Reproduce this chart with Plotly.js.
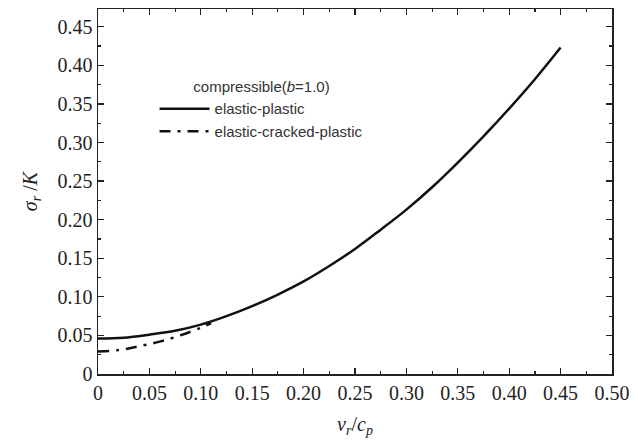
<!DOCTYPE html>
<html>
<head>
<meta charset="utf-8">
<script src="https://cdn.plot.ly/plotly-3.0.1.min.js"></script>
<style>html,body{margin:0;padding:0;background:#fff;}#chart{width:638px;height:441px;}</style>
</head>
<body>
<div id="chart"></div>
<script>
// Data
var epX = [0, 0.025, 0.05, 0.075, 0.1, 0.125, 0.15, 0.175, 0.2, 0.225, 0.25, 0.275, 0.3, 0.325, 0.35, 0.375, 0.4, 0.425, 0.45];
var epY = [0.046, 0.047, 0.051, 0.056, 0.064, 0.075, 0.088, 0.103, 0.120, 0.140, 0.162, 0.187, 0.213, 0.242, 0.274, 0.308, 0.344, 0.382, 0.423];
var ecpX = [0, 0.02, 0.04, 0.06, 0.08, 0.10, 0.11];
var ecpY = [0.029, 0.031, 0.036, 0.042, 0.050, 0.060, 0.066];
var xTickVals = [0, 0.05, 0.10, 0.15, 0.20, 0.25, 0.30, 0.35, 0.40, 0.45, 0.50];
var xTickText = ["0", "0.05", "0.10", "0.15", "0.20", "0.25", "0.30", "0.35", "0.40", "0.45", "0.50"];
var yTickVals = [0, 0.05, 0.10, 0.15, 0.20, 0.25, 0.30, 0.35, 0.40, 0.45];
var yTickText = ["0", "0.05", "0.10", "0.15", "0.20", "0.25", "0.30", "0.35", "0.40", "0.45"];
var seriesNames = ["elastic-plastic", "elastic-cracked-plastic"];
var legendTitle = "compressible(<i>b</i>=1.0)";

var serif = "Liberation Serif, Times New Roman, serif";
var traces = [
  {x: epX, y: epY, mode: "lines", name: seriesNames[0], line: {color: "#111", width: 2.5, shape: "spline", smoothing: 1}},
  {x: ecpX, y: ecpY, mode: "lines", name: seriesNames[1], line: {color: "#111", width: 2.5, dash: "11px,7px,3px,7px", shape: "spline", smoothing: 1}}
];
var axisCommon = {
  showline: true, linecolor: "#222", linewidth: 1.5, mirror: "allticks",
  ticks: "inside", ticklen: 6, tickwidth: 1.3, tickcolor: "#222",
  showgrid: false, zeroline: false,
  tickfont: {family: serif, size: 20, color: "#222"},
  minor: {ticks: "inside", ticklen: 3, tickwidth: 1.2, tickcolor: "#222", dtick: 0.025, tick0: 0, showgrid: false}
};
var legendFont = {family: "Liberation Sans, Arial, sans-serif", size: 15, color: "#333"};
var layout = {
  width: 638, height: 441,
  margin: {l: 98, r: 26, t: 9, b: 67},
  paper_bgcolor: "#fff", plot_bgcolor: "#fff",
  showlegend: true,
  legend: {
    x: 0.11, y: 0.825, xanchor: "left", yanchor: "top",
    bgcolor: "rgba(0,0,0,0)", borderwidth: 0,
    font: legendFont,
    title: {text: legendTitle, side: "top center", font: legendFont},
    itemwidth: 50, tracegroupgap: 0
  },
  xaxis: Object.assign({}, axisCommon, {
    range: [0, 0.5], tickmode: "array", tickvals: xTickVals, ticktext: xTickText,
    title: {text: "<i>v<sub>r</sub></i>/<i>c<sub>p</sub></i>", font: {family: serif, size: 20, color: "#222"}, standoff: 14}
  }),
  yaxis: Object.assign({}, axisCommon, {
    range: [0, 0.473], tickmode: "array", tickvals: yTickVals, ticktext: yTickText,
    title: {text: "<i>σ<sub>r</sub></i> /<i>K</i>", font: {family: serif, size: 20, color: "#222"}, standoff: 14}
  })
};
Plotly.newPlot("chart", traces, layout, {displayModeBar: false, staticPlot: true});
</script>
</body>
</html>
